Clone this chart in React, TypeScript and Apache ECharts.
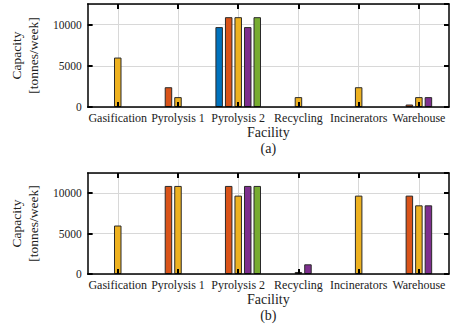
import React, { useEffect, useRef } from 'react';
import * as echarts from 'echarts';

const categories = ['Gasification', 'Pyrolysis 1', 'Pyrolysis 2', 'Recycling', 'Incinerators', 'Warehouse'];
const seriesColors = ['#0072BD', '#D95319', '#EDB120', '#7E2F8E', '#77AC30'];
const yTicks = { min: 0, max: 12500, interval: 5000 };

// Panel (a)
const aBlue = [null, null, 9700, null, null, null];
const aRed = [null, 2400, 10900, null, null, 300];
const aYellow = [6000, 1200, 10900, 1200, 2400, 1200];
const aPurple = [null, null, 9700, null, null, 1200];
const aGreen = [null, null, 10900, null, null, null];

// Panel (b)
const bBlue = [null, null, null, null, null, null];
const bRed = [null, 10900, 10900, null, null, 9700];
const bYellow = [6000, 10900, 9700, 250, 9700, 8500];
const bPurple = [null, null, 10900, 1200, null, 8500];
const bGreen = [null, null, 10900, null, null, null];

const panelA = [aBlue, aRed, aYellow, aPurple, aGreen];
const panelB = [bBlue, bRed, bYellow, bPurple, bGreen];

const FONT = '"Liberation Serif", "Times New Roman", serif';
const TXT = '#222';

export default function App() {
  const ref = useRef<HTMLDivElement>(null);
  useEffect(() => {
    const chart = echarts.init(ref.current!, null, { renderer: 'svg' });
    const grids = [
      { left: 80, top: 4, width: 369, height: 103, caption: '(a)', data: panelA },
      { left: 80, top: 173, width: 369, height: 101, caption: '(b)', data: panelB },
    ];
    const xAxis: any[] = [];
    const yAxis: any[] = [];
    const series: any[] = [];
    const tick = { show: true, inside: true, length: 5, lineStyle: { color: '#000', width: 2 } };
    grids.forEach((g, gi) => {
      const base = xAxis.length;
      xAxis.push({
        type: 'category', gridIndex: gi, position: 'bottom', data: categories,
        axisLine: { show: false }, axisTick: { show: false },
        axisLabel: { interval: 0, fontFamily: FONT, fontSize: 12, color: TXT, margin: 5 },
        splitLine: { show: true, interval: 0, alignWithLabel: true, lineStyle: { color: '#d8d8d8', width: 1 } },
        name: 'Facility\n' + g.caption, nameLocation: 'middle', nameGap: 17,
        nameTextStyle: { fontFamily: FONT, fontSize: 14, color: TXT, lineHeight: 16, verticalAlign: 'top' },
      });
      xAxis.push({
        type: 'category', gridIndex: gi, position: 'bottom', data: categories, z: 5,
        axisLine: { show: true, lineStyle: { color: '#000', width: 1.5 } },
        axisTick: { ...tick, interval: 0, alignWithLabel: true },
        axisLabel: { show: false }, splitLine: { show: false },
      });
      xAxis.push({
        type: 'category', gridIndex: gi, position: 'top', data: categories, z: 5,
        axisLine: { show: true, lineStyle: { color: '#000', width: 1.5 } },
        axisTick: { ...tick, interval: 0, alignWithLabel: true },
        axisLabel: { show: false }, splitLine: { show: false },
      });
      const ybase = yAxis.length;
      yAxis.push({
        type: 'value', gridIndex: gi, position: 'left', ...yTicks,
        axisLine: { show: true, lineStyle: { color: '#000', width: 1.5 } },
        axisTick: tick,
        axisLabel: { fontFamily: FONT, fontSize: 11.5, color: TXT, margin: 6, showMaxLabel: false, formatter: (v: number) => String(v) },
        splitLine: { show: true, lineStyle: { color: '#d8d8d8', width: 1 } },
        name: 'Capacity\n[tonnes/week]', nameLocation: 'middle', nameRotate: 90, nameGap: 37,
        nameTextStyle: { fontFamily: FONT, fontSize: 13.5, color: TXT, lineHeight: 17 },
      });
      yAxis.push({
        type: 'value', gridIndex: gi, position: 'right', ...yTicks, z: 5,
        axisLine: { show: true, lineStyle: { color: '#000', width: 1.5 } },
        axisTick: tick,
        axisLabel: { show: false }, splitLine: { show: false },
      });
      g.data.forEach((vals, si) => {
        series.push({
          type: 'bar', xAxisIndex: base, yAxisIndex: ybase, data: vals,
          barWidth: 7.5, barGap: '27%',
          itemStyle: { color: seriesColors[si], borderColor: '#2a2a2a', borderWidth: 1 },
        });
      });
    });
    chart.setOption({
      animation: false,
      textStyle: { fontFamily: FONT },
      grid: grids.map((g) => ({ left: g.left, top: g.top, width: g.width, height: g.height, containLabel: false })),
      xAxis, yAxis, series,
    });
    return () => chart.dispose();
  }, []);
  return <div ref={ref} style={{ position: 'fixed', left: 0, top: 0, width: 450, height: 327, background: '#fff' }} />;
}
